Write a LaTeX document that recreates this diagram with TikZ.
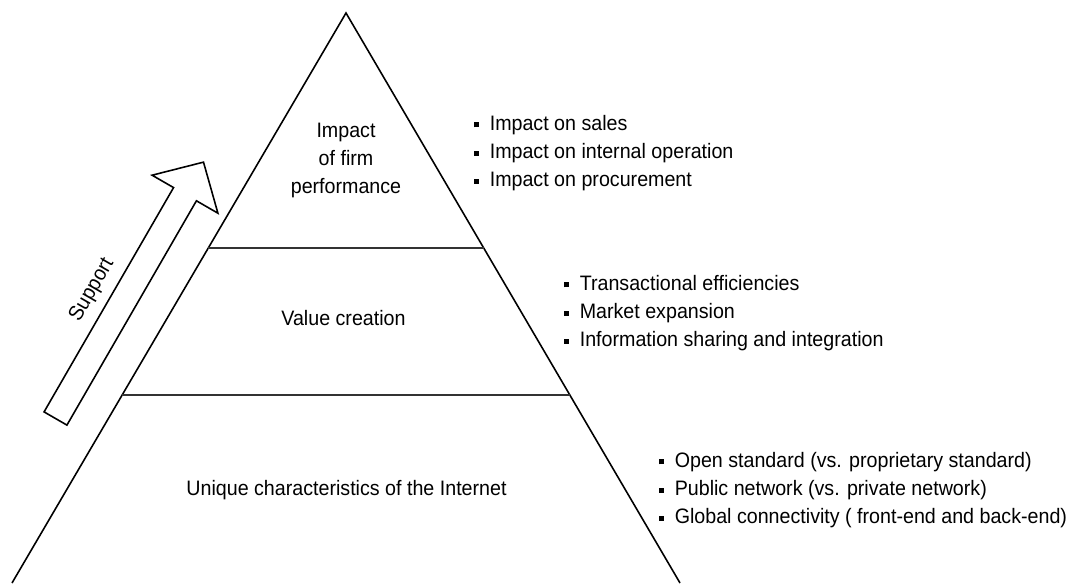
\documentclass[tikz,border=0pt]{standalone}
\usepackage{fontspec}
\setmainfont{Liberation Sans}[FakeStretch=0.94]
\usetikzlibrary{calc}

\newcommand{\sqb}{\rule[0.25ex]{0.1cm}{0.1cm}\hspace{0.22cm}}

\tikzset{
  level/.style={align=center, inner sep=0pt},
  points/.style={align=left, anchor=west, inner sep=0pt},
  divider/.style={line width=1pt, black!80},
}

\begin{document}
\begin{tikzpicture}[line width=0.9pt, font=\fontsize{11.9}{16.1}\selectfont]
\useasboundingbox (0,0) rectangle (21.42,11.66);

\path (6.92,11.40) coordinate (top)
      (0.24,0) coordinate (bl)
      (13.60,0) coordinate (br);

\draw (bl) -- (top) -- (br);
\draw[divider] ($(top)!0.4123!(bl)$) coordinate (l1) -- ($(top)!0.4123!(br)$) coordinate (r1);
\draw[divider] ($(top)!0.6702!(bl)$) coordinate (l2) -- ($(top)!0.6702!(br)$) coordinate (r2);

\path (6.92,8.45) node[level] (firm) {Impact\\of firm\\performance}
      (6.87,5.30) node[level] (value) {Value creation}
      (6.93,1.86) node[level] (internet) {Unique characteristics of the Internet};

\path (9.46,8.60) node[points] (firmlist) {\sqb Impact on sales\\\sqb Impact on internal operation\\\sqb Impact on procurement}
      (11.26,5.40) node[points] (valuelist) {\sqb Transactional efficiencies\\\sqb Market expansion\\\sqb Information sharing and integration}
      (13.16,1.86) node[points] (internetlist) {\sqb Open standard (vs. proprietary standard)\\\sqb Public network (vs. private network)\\\sqb Global connectivity ( front-end and back-end)};

\begin{scope}[shift={(1.11,3.29)}, rotate=60]
\draw (0,-0.264) -- (5.18,-0.264) -- (5.18,-0.76) -- (5.92,0) -- (5.18,0.76) -- (5.18,0.264) -- (0,0.264) -- cycle;
\path (2.59,0.65) node[rotate=60, inner sep=0pt] (support) {Support};
\end{scope}

\end{tikzpicture}
\end{document}
